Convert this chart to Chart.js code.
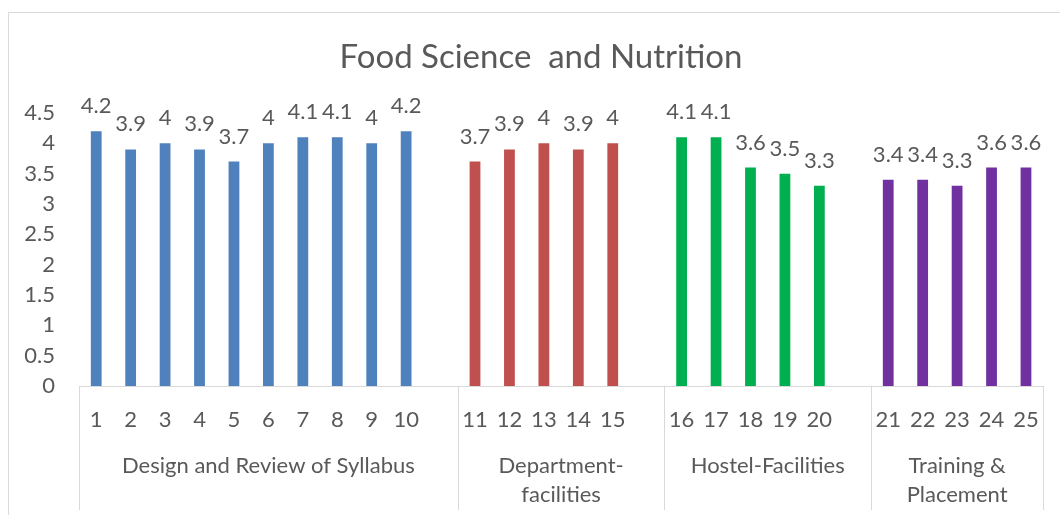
<!DOCTYPE html>
<html>
<head>
<meta charset="utf-8">
<script src="https://cdn.jsdelivr.net/npm/chart.js@4/dist/chart.umd.min.js"></script>
<style>
  html, body { margin: 0; padding: 0; background: #ffffff; }
  #wrap { width: 1060px; height: 515px; position: relative; }
</style>
</head>
<body>
<div id="wrap"><canvas id="c" width="1060" height="515"></canvas></div>
<script>
// ---- data ----
const chartTitle = 'Food Science  and Nutrition';
const questionLabels = ['1','2','3','4','5','6','7','8','9','10','',
                        '11','12','13','14','15','',
                        '16','17','18','19','20','',
                        '21','22','23','24','25'];
const scores = [4.2, 3.9, 4, 3.9, 3.7, 4, 4.1, 4.1, 4, 4.2, null,
                3.7, 3.9, 4, 3.9, 4, null,
                4.1, 4.1, 3.6, 3.5, 3.3, null,
                3.4, 3.4, 3.3, 3.6, 3.6];
const groupNames = [['Design and Review of Syllabus'], ['Department-', 'facilities'], ['Hostel-Facilities'], ['Training &', 'Placement']];
const groupStart = [0, 11, 17, 23];
const groupEnd = [10, 16, 22, 27];
const groupColors = ['#4F81BD', '#C0504D', '#00B050', '#7030A0'];
const yTicks = [0, 0.5, 1, 1.5, 2, 2.5, 3, 3.5, 4, 4.5];

// ---- styling helpers ----
const textColor = '#595959';
const lineColor = '#D9D9D9';
const fontFamily = 'Lato';
const labelSize = 22;

const barColors = questionLabels.map((_, i) => {
  for (let g = 0; g < groupStart.length; g++) {
    if (i >= groupStart[g] && i <= groupEnd[g]) return groupColors[g];
  }
  return groupColors[0];
});

Chart.defaults.font.family = fontFamily;
Chart.defaults.color = textColor;

const decorPlugin = {
  id: 'decor',
  beforeDraw(chart) {
    const ctx = chart.ctx;
    ctx.save();
    ctx.fillStyle = '#ffffff';
    ctx.fillRect(0, 0, chart.width, chart.height);
    // outer chart border (left and top visible)
    ctx.strokeStyle = lineColor;
    ctx.lineWidth = 1;
    ctx.beginPath();
    ctx.moveTo(8.5, chart.height);
    ctx.lineTo(8.5, 12.5);
    ctx.lineTo(chart.width, 12.5);
    ctx.stroke();
    // title
    ctx.fillStyle = textColor;
    ctx.font = '33px ' + fontFamily;
    ctx.textAlign = 'center';
    ctx.textBaseline = 'alphabetic';
    ctx.fillText(chartTitle, 541, 68);
    ctx.restore();
  },
  afterDraw(chart) {
    const ctx = chart.ctx;
    const x = chart.scales.x;
    const area = chart.chartArea;
    const step = x.getPixelForValue(1) - x.getPixelForValue(0);
    ctx.save();
    // group separators
    ctx.strokeStyle = lineColor;
    ctx.lineWidth = 1;
    const bounds = groupStart.map(s => x.getPixelForValue(s) - step / 2);
    bounds.push(x.getPixelForValue(groupEnd[groupEnd.length - 1]) + step / 2);
    bounds.forEach(b => {
      const px = Math.round(b) + 0.5;
      ctx.beginPath();
      ctx.moveTo(px, area.bottom);
      ctx.lineTo(px, 510);
      ctx.stroke();
    });
    // group labels
    ctx.fillStyle = textColor;
    ctx.font = labelSize + 'px ' + fontFamily;
    ctx.textAlign = 'center';
    ctx.textBaseline = 'alphabetic';
    groupNames.forEach((lines, g) => {
      const cx = (bounds[g] + bounds[g + 1]) / 2;
      lines.forEach((ln, k) => {
        ctx.fillText(ln, cx, 473 + k * 29);
      });
    });
    // data labels
    const meta = chart.getDatasetMeta(0);
    meta.data.forEach((bar, i) => {
      const v = scores[i];
      if (v === null || v === undefined) return;
      ctx.fillText(String(v), bar.x, bar.y - 18);
    });
    ctx.restore();
  }
};

new Chart(document.getElementById('c'), {
  type: 'bar',
  data: {
    labels: questionLabels,
    datasets: [{
      data: scores,
      backgroundColor: barColors,
      borderWidth: 0,
      categoryPercentage: 1.0,
      barPercentage: 0.313
    }]
  },
  options: {
    responsive: false,
    animation: false,
    layout: { padding: { top: 113, right: 15, bottom: 0, left: 0 } },
    plugins: {
      legend: { display: false },
      title: { display: false },
      tooltip: { enabled: false }
    },
    scales: {
      x: {
        type: 'category',
        grid: { display: false, drawTicks: false },
        border: { display: true, color: lineColor, width: 1 },
        ticks: {
          autoSkip: false,
          maxRotation: 0,
          minRotation: 0,
          padding: 21,
          color: textColor,
          font: { size: labelSize, family: fontFamily }
        },
        afterFit(scale) { scale.height = 129; }
      },
      y: {
        min: 0,
        max: 4.5,
        afterBuildTicks(scale) { scale.ticks = yTicks.map(v => ({ value: v })); },
        grid: { display: false, drawTicks: false },
        border: { display: false },
        ticks: {
          padding: 24,
          color: textColor,
          font: { size: labelSize, family: fontFamily },
          callback: v => String(v)
        },
        afterFit(scale) { scale.width = 79; }
      }
    }
  },
  plugins: [decorPlugin]
});
</script>
</body>
</html>
